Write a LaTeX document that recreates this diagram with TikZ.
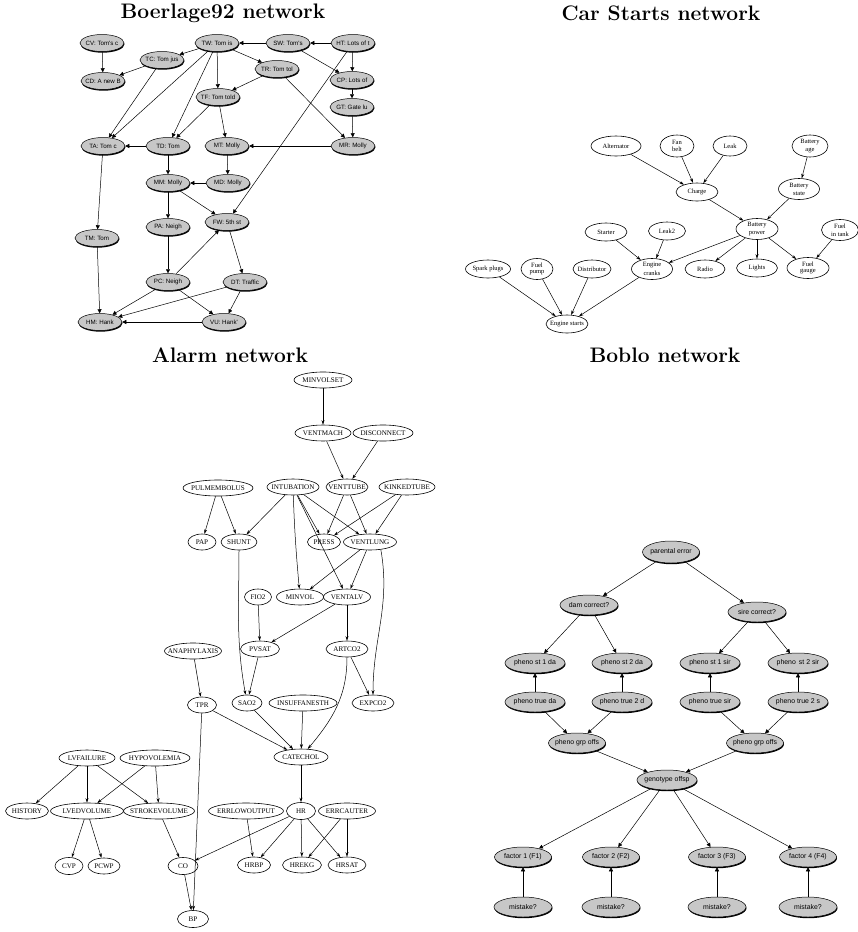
\documentclass[tikz,border=0pt]{standalone}
\usepackage{fontspec}
\newfontfamily\tms{Liberation Serif}
\newfontfamily\hlv{Liberation Sans}
\usetikzlibrary{shapes.geometric,arrows.meta,shadows}
\begin{document}
\begin{tikzpicture}[x=1pt,y=-1pt,
  % text is centred in a zero-width box so the ellipse keeps its given size
  fixsize/.style={execute at begin node={\hbox to 0pt\bgroup\hss},
                  execute at end node={\hss\egroup}},
  title/.style={font=\fontsize{21}{24}\selectfont\bfseries, inner sep=0pt},
  gnode/.style={ellipse, fixsize, draw=black, line width=0.5pt, fill=black!22,
     inner sep=0pt, minimum width=44, minimum height=17,
     font=\hlv\fontsize{6.2}{7}\selectfont,
     drop shadow={shadow xshift=0.5pt, shadow yshift=-1.2pt, opacity=1, fill=black}},
  bnode/.style={gnode, minimum width=58, minimum height=20,
     font=\hlv\fontsize{6.9}{8}\selectfont},
  tnode/.style={ellipse, fixsize, draw=black, line width=0.6pt, inner sep=0pt,
     minimum height=18, font=\tms\fontsize{6.5}{7}\selectfont},
  anode/.style={ellipse, fixsize, draw=black, line width=0.6pt, inner sep=0pt,
     minimum height=16, font=\tms\fontsize{7.1}{8}\selectfont},
  ea/.style={-{Stealth[length=4.5pt,width=3pt]}, line width=0.5pt},
  eb/.style={-{Triangle[length=4pt,width=4pt]}, line width=0.5pt},
]
\useasboundingbox (0,0) rectangle (858,932);

% ---------------- titles ----------------
\node[title] (t1) at (223,13) {Boerlage92 network};
\node[title] (t2) at (661,13) {Car Starts network};
\node[title] (t3) at (230,355) {Alarm network};
\node[title] (t4) at (665,355) {Boblo network};

% ---------------- Boerlage92 ----------------
\node[gnode] (cv) at (102,43) {CV: Tom's c};
\node[gnode] (tw) at (217,43) {TW: Tom is};
\node[gnode] (sw) at (288,43) {SW: Tom's};
\node[gnode] (ht) at (353,43) {HT: Lots of t};
\node[gnode] (tc) at (162,60) {TC: Tom jus};
\node[gnode] (tr) at (277,69) {TR: Tom tol};
\node[gnode] (cd) at (103,81) {CD: A new B};
\node[gnode] (cp) at (352,80) {CP: Lots of};
\node[gnode] (tf) at (218,97) {TF: Tom told};
\node[gnode] (gt) at (352,107) {GT: Gate lu};
\node[gnode] (ta) at (103,146) {TA: Tom c};
\node[gnode] (td) at (168,146) {TD: Tom};
\node[gnode] (mt) at (227,146) {MT: Molly};
\node[gnode] (mr) at (353,146) {MR: Molly};
\node[gnode] (mm) at (168,183) {MM: Molly};
\node[gnode] (md) at (228,183) {MD: Molly};
\node[gnode] (fw) at (227,222) {FW: 5th st};
\node[gnode] (pa) at (168,227) {PA: Neigh};
\node[gnode] (tm) at (97,238) {TM: Tom};
\node[gnode] (pc) at (168,282) {PC: Neigh};
\node[gnode] (dt) at (245,282) {DT: Traffic};
\node[gnode] (hm) at (100,322) {HM: Hank};
\node[gnode] (vu) at (224,322) {VU: Hank'};

\draw[eb] (cv) -- (cd);
\draw[eb] (tc) -- (cd);
\draw[eb] (tw) -- (tc);
\draw[eb] (sw) -- (tw);
\draw[eb] (ht) -- (sw);
\draw[eb] (tw) -- (tr);
\draw[eb] (tw) -- (tf);
\draw[eb] (tr) -- (tf);
\draw[eb] (tw) -- (ta);
\draw[eb] (tc) -- (ta);
\draw[eb] (tw) -- (td);
\draw[eb] (tf) -- (td);
\draw[eb] (tf) -- (mt);
\draw[eb] (sw) -- (cp);
\draw[eb] (ht) -- (cp);
\draw[eb] (cp) -- (gt);
\draw[eb] (gt) -- (mr);
\draw[eb] (tr) -- (mr);
\draw[eb] (mr) -- (mt);
\draw[eb] (td) -- (ta);
\draw[eb] (ht) -- (fw);
\draw[eb] (mt) -- (md);
\draw[eb] (md) -- (mm);
\draw[eb] (td) -- (mm);
\draw[eb] (mm) -- (pa);
\draw[eb] (mm) -- (fw);
\draw[eb] (ta) -- (tm);
\draw[eb] (pa) -- (pc);
\draw[eb] (pc) -- (fw);
\draw[eb] (fw) -- (dt);
\draw[eb] (tm) -- (hm);
\draw[eb] (pc) -- (hm);
\draw[eb] (dt) -- (hm);
\draw[eb] (vu) -- (hm);
\draw[eb] (pc) -- (vu);
\draw[eb] (dt) -- (vu);

% ---------------- Car Starts ----------------
\node[tnode, minimum width=50, minimum height=20] (alt) at (616,146) {Alternator};
\node[tnode, minimum width=34, minimum height=22] (fan) at (677,146) {\shortstack{Fan\\belt}};
\node[tnode, minimum width=34, minimum height=20] (leak) at (730,146) {Leak};
\node[tnode, minimum width=36, minimum height=22] (bage) at (810,146) {\shortstack{Battery\\age}};
\node[tnode, minimum width=42] (charge) at (697,192) {Charge};
\node[tnode, minimum width=41, minimum height=21] (bstate) at (799,189) {\shortstack{Battery\\state}};
\node[tnode, minimum width=42] (starter) at (606,232) {Starter};
\node[tnode, minimum width=37] (leaktwo) at (667,231) {Leak2};
\node[tnode, minimum width=42, minimum height=21] (bpower) at (757,229) {\shortstack{Battery\\power}};
\node[tnode, minimum width=37, minimum height=21] (ftank) at (840,230) {\shortstack{Fuel\\in tank}};
\node[tnode, minimum width=45] (spark) at (488,269) {Spark plugs};
\node[tnode, minimum width=32, minimum height=21] (fpump) at (537,269) {\shortstack{Fuel\\pump}};
\node[tnode, minimum width=38] (dist) at (592,269) {Distributor};
\node[tnode, minimum width=41, minimum height=21] (cranks) at (652,269) {\shortstack{Engine\\cranks}};
\node[tnode, minimum width=40] (radio) at (705,269) {Radio};
\node[tnode, minimum width=41] (lights) at (757,268) {Lights};
\node[tnode, minimum width=42, minimum height=21] (gauge) at (808,268) {\shortstack{Fuel\\gauge}};
\node[tnode, minimum width=42] (estarts) at (567,324) {Engine starts};

\draw[ea] (alt) -- (charge);
\draw[ea] (fan) -- (charge);
\draw[ea] (leak) -- (charge);
\draw[ea] (bage) -- (bstate);
\draw[ea] (charge) -- (bpower);
\draw[ea] (bstate) -- (bpower);
\draw[ea] (bpower) -- (cranks);
\draw[ea] (bpower) -- (radio);
\draw[ea] (bpower) -- (lights);
\draw[ea] (bpower) -- (gauge);
\draw[ea] (ftank) -- (gauge);
\draw[ea] (starter) -- (cranks);
\draw[ea] (leaktwo) -- (cranks);
\draw[ea] (spark) -- (estarts);
\draw[ea] (fpump) -- (estarts);
\draw[ea] (dist) -- (estarts);
\draw[ea] (cranks) -- (estarts);

% ---------------- Alarm ----------------
\node[anode, minimum width=58] (minvolset) at (323,380) {MINVOLSET};
\node[anode, minimum width=56] (ventmach) at (323,433) {VENTMACH};
\node[anode, minimum width=60] (disconnect) at (383,433) {DISCONNECT};
\node[anode, minimum width=70] (pulmembolus) at (218,488) {PULMEMBOLUS};
\node[anode, minimum width=52] (intubation) at (293,487) {INTUBATION};
\node[anode, minimum width=42] (venttube) at (347,487) {VENTTUBE};
\node[anode, minimum width=56] (kinkedtube) at (407,487) {KINKEDTUBE};
\node[anode, minimum width=28] (pap) at (202,542) {PAP};
\node[anode, minimum width=36] (shunt) at (239,542) {SHUNT};
\node[anode, minimum width=33] (press) at (324,542) {PRESS};
\node[anode, minimum width=53] (ventlung) at (370,542) {VENTLUNG};
\node[anode, minimum width=27] (fio) at (258,597) {FIO2};
\node[anode, minimum width=47] (minvol) at (300,597) {MINVOL};
\node[anode, minimum width=47] (ventalv) at (347,597) {VENTALV};
\node[anode, minimum width=57] (anaph) at (193,651) {ANAPHYLAXIS};
\node[anode, minimum width=39] (pvsat) at (260,649) {PVSAT};
\node[anode, minimum width=42] (artco) at (347,649) {ARTCO2};
\node[anode, minimum width=29] (tpr) at (202,705) {TPR};
\node[anode, minimum width=30] (sao) at (247,703) {SAO2};
\node[anode, minimum width=68] (insuff) at (303,703) {INSUFFANESTH};
\node[anode, minimum width=42] (expco) at (373,703) {EXPCO2};
\node[anode, minimum width=54] (catechol) at (301,757) {CATECHOL};
\node[anode, minimum width=56] (lvfailure) at (87,758) {LVFAILURE};
\node[anode, minimum width=70] (hypovol) at (155,758) {HYPOVOLEMIA};
\node[anode, minimum width=43] (history) at (27,811) {HISTORY};
\node[anode, minimum width=73] (lvedvol) at (87,811) {LVEDVOLUME};
\node[anode, minimum width=71] (strokevol) at (159,811) {STROKEVOLUME};
\node[anode, minimum width=75] (errlow) at (246,811) {ERRLOWOUTPUT};
\node[anode, minimum width=29, minimum height=17] (hr) at (301,811) {HR};
\node[anode, minimum width=57] (errcauter) at (347,811) {ERRCAUTER};
\node[anode, minimum width=28, minimum height=17] (cvp) at (69,866) {CVP};
\node[anode, minimum width=32] (pcwp) at (104,866) {PCWP};
\node[anode, minimum width=30, minimum height=17] (co) at (183,866) {CO};
\node[anode, minimum width=33] (hrbp) at (254,865) {HRBP};
\node[anode, minimum width=39] (hrekg) at (302,865) {HREKG};
\node[anode, minimum width=38] (hrsat) at (347,865) {HRSAT};
\node[anode, minimum width=31, minimum height=17] (bp) at (193,919) {BP};

\draw[ea] (minvolset) -- (ventmach);
\draw[ea] (ventmach) -- (venttube);
\draw[ea] (disconnect) -- (venttube);
\draw[ea] (pulmembolus) -- (pap);
\draw[ea] (pulmembolus) -- (shunt);
\draw[ea] (intubation) -- (shunt);
\draw[ea] (intubation) -- (press);
\draw[ea] (intubation) -- (ventlung);
\draw[ea] (intubation) to[out=-88,in=95] (minvol);
\draw[ea] (intubation) -- (ventalv);
\draw[ea] (venttube) -- (press);
\draw[ea] (venttube) -- (ventlung);
\draw[ea] (kinkedtube) -- (press);
\draw[ea] (kinkedtube) -- (ventlung);
\draw[ea] (ventlung) -- (minvol);
\draw[ea] (ventlung) -- (ventalv);
\draw[ea] (ventlung.-35) to[out=-80,in=90] (expco);
\draw[ea] (ventalv) -- (pvsat);
\draw[ea] (ventalv) -- (artco);
\draw[ea] (fio) -- (pvsat);
\draw[ea] (shunt) to[out=-90,in=100] (sao);
\draw[ea] (pvsat) -- (sao);
\draw[ea] (artco) -- (expco);
\draw[ea] (artco) to[out=-90,in=50] (catechol);
\draw[ea] (anaph) -- (tpr);
\draw[ea] (tpr) -- (catechol);
\draw[ea] (tpr) -- (bp);
\draw[ea] (sao) -- (catechol);
\draw[ea] (insuff) -- (catechol);
\draw[ea] (catechol) -- (hr);
\draw[ea] (hr) -- (hrbp);
\draw[ea] (hr) -- (hrekg);
\draw[ea] (hr) -- (hrsat);
\draw[ea] (hr) -- (co);
\draw[ea] (errlow) -- (hrbp);
\draw[ea] (errcauter) -- (hrekg);
\draw[ea] (errcauter) -- (hrsat);
\draw[ea] (lvfailure) -- (history);
\draw[ea] (lvfailure) -- (lvedvol);
\draw[ea] (lvfailure) -- (strokevol);
\draw[ea] (hypovol) -- (lvedvol);
\draw[ea] (hypovol) -- (strokevol);
\draw[ea] (lvedvol) -- (cvp);
\draw[ea] (lvedvol) -- (pcwp);
\draw[ea] (strokevol) -- (co);
\draw[ea] (co) -- (bp);

% ---------------- Boblo ----------------
\node[bnode, minimum width=57, minimum height=22] (perr) at (671,552) {parental error};
\node[bnode] (dam) at (589,605) {dam correct?};
\node[bnode] (sire) at (757,612) {sire correct?};
\node[bnode, minimum width=60] (psoned) at (535,663) {pheno st 1 da};
\node[bnode, minimum width=60] (pstwod) at (622,663) {pheno st 2 da};
\node[bnode, minimum width=60] (psones) at (710,663) {pheno st 1 sir};
\node[bnode, minimum width=60] (pstwos) at (798,663) {pheno \,st 2 sir};
\node[bnode, minimum width=60] (ptoned) at (535,702) {pheno true da};
\node[bnode, minimum width=60] (pttwod) at (622,702) {pheno true 2 d};
\node[bnode, minimum width=60] (ptones) at (710,702) {pheno true sir};
\node[bnode, minimum width=60] (pttwos) at (798,702) {pheno true 2 s};
\node[bnode, minimum width=57] (pgl) at (577,743) {pheno grp offs};
\node[bnode, minimum width=57] (pgr) at (755,743) {pheno grp offs};
\node[bnode, minimum width=60] (geno) at (667,780) {genotype offsp};
\node[bnode, minimum width=57] (fone) at (523,857) {factor 1 (F1)};
\node[bnode, minimum width=57] (ftwo) at (611,857) {factor 2 (F2)};
\node[bnode, minimum width=57] (fthree) at (717,857) {factor 3 (F3)};
\node[bnode, minimum width=57] (ffour) at (808,857) {factor 4 (F4)};
\node[bnode] (mone) at (523,907) {mistake?};
\node[bnode] (mtwo) at (611,907) {mistake?};
\node[bnode] (mthree) at (717,907) {mistake?};
\node[bnode] (mfour) at (808,907) {mistake?};

\draw[eb] (perr) -- (dam);
\draw[eb] (perr) -- (sire);
\draw[eb] (dam) -- (psoned);
\draw[eb] (dam) -- (pstwod);
\draw[eb] (sire) -- (psones);
\draw[eb] (sire) -- (pstwos);
\draw[eb] (ptoned) -- (psoned);
\draw[eb] (pttwod) -- (pstwod);
\draw[eb] (ptones) -- (psones);
\draw[eb] (pttwos) -- (pstwos);
\draw[eb] (ptoned) -- (pgl);
\draw[eb] (pttwod) -- (pgl);
\draw[eb] (ptones) -- (pgr);
\draw[eb] (pttwos) -- (pgr);
\draw[eb] (pgl) -- (geno);
\draw[eb] (pgr) -- (geno);
\draw[eb] (geno) -- (fone);
\draw[eb] (geno) -- (ftwo);
\draw[eb] (geno) -- (fthree);
\draw[eb] (geno) -- (ffour);
\draw[eb] (mone) -- (fone);
\draw[eb] (mtwo) -- (ftwo);
\draw[eb] (mthree) -- (fthree);
\draw[eb] (mfour) -- (ffour);
\end{tikzpicture}
\end{document}
